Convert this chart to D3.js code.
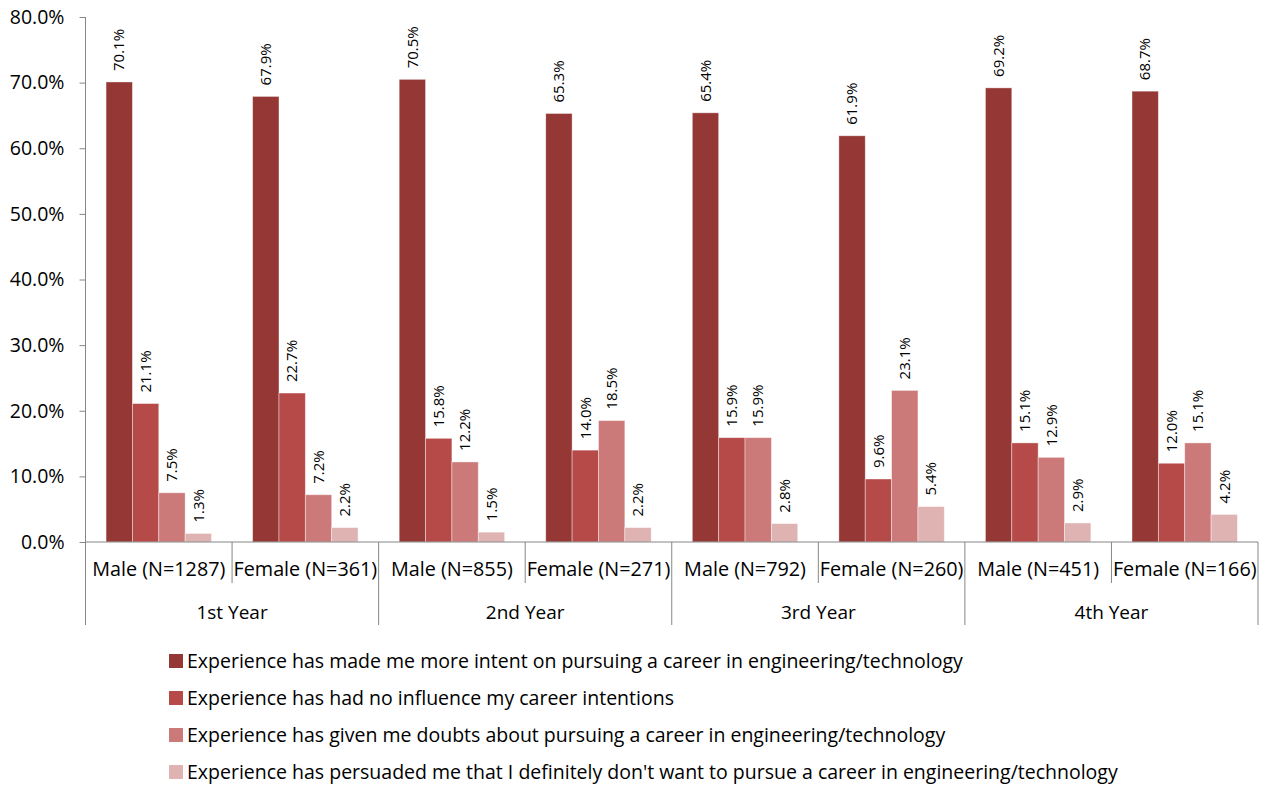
<!DOCTYPE html>
<html>
<head>
<meta charset="utf-8">
<script src="https://cdn.jsdelivr.net/npm/d3@7"></script>
<style>
  body { margin: 0; background: #fff; }
  svg text { font-family: "Open Sans", "Liberation Sans", sans-serif; fill: #000; }
</style>
</head>
<body>
<div id="chart"></div>
<script>
const years = ["1st Year", "2nd Year", "3rd Year", "4th Year"];
const groups = ["Male (N=1287)", "Female (N=361)", "Male (N=855)", "Female (N=271)",
                "Male (N=792)", "Female (N=260)", "Male (N=451)", "Female (N=166)"];
const seriesNames = [
  "Experience has made me more intent on pursuing a career in engineering/technology",
  "Experience has had no influence my career intentions",
  "Experience has given me doubts about pursuing a career in engineering/technology",
  "Experience has persuaded me that I definitely don't want to pursue a career in engineering/technology"
];
const moreIntent = [70.1, 67.9, 70.5, 65.3, 65.4, 61.9, 69.2, 68.7];
const noInfluence = [21.1, 22.7, 15.8, 14.0, 15.9, 9.6, 15.1, 12.0];
const doubts = [7.5, 7.2, 12.2, 18.5, 15.9, 23.1, 12.9, 15.1];
const dontWant = [1.3, 2.2, 1.5, 2.2, 2.8, 5.4, 2.9, 4.2];
const yTicks = [0, 10, 20, 30, 40, 50, 60, 70, 80];
const colors = ["#953735", "#b64a48", "#cb7a79", "#e0b3b3"];

const seriesValues = [moreIntent, noInfluence, doubts, dontWant];

const width = 1264, height = 785;
const margin = { top: 17, left: 85.5, right: 6, bottom: 243 };
const plotW = width - margin.left - margin.right;
const plotH = height - margin.top - margin.bottom;

const svg = d3.select("#chart").append("svg")
  .attr("width", width).attr("height", height);

const g = svg.append("g").attr("transform", `translate(${margin.left},${margin.top})`);

const x0 = d3.scaleBand().domain(d3.range(groups.length)).range([0, plotW]).padding(0);
const x1 = d3.scaleBand().domain(d3.range(seriesNames.length))
  .range([0, x0.bandwidth()]).paddingInner(0).paddingOuter(0.78);
const y = d3.scaleLinear().domain([0, 80]).range([plotH, 0]);

// bars
const grp = g.selectAll("g.grp").data(groups).enter().append("g")
  .attr("transform", (d, i) => `translate(${x0(i)},0)`);

grp.each(function (d, gi) {
  const sel = d3.select(this);
  seriesValues.forEach((vals, si) => {
    const v = vals[gi];
    sel.append("rect")
      .attr("x", x1(si))
      .attr("y", y(v))
      .attr("width", x1.bandwidth())
      .attr("height", plotH - y(v))
      .attr("fill", colors[si])
      .attr("stroke", "#ffffff")
      .attr("stroke-opacity", 0.5)
      .attr("stroke-width", 0.8);
    const cx = x1(si) + x1.bandwidth() / 2;
    const ty = y(v) - 11;
    sel.append("text")
      .attr("transform", `translate(${cx},${ty}) rotate(-90)`)
      .attr("dy", "0.35em")
      .attr("text-anchor", "start")
      .style("font-size", "15px")
      .text(v.toFixed(1) + "%");
  });
});

// y axis
const yAxis = g.append("g")
  .call(d3.axisLeft(y).tickValues(yTicks).tickSize(6).tickPadding(15)
    .tickFormat(d => d.toFixed(1) + "%"));
yAxis.select(".domain").attr("stroke", "#868686").attr("d", `M0,0V${plotH}`);
yAxis.selectAll(".tick line").attr("stroke", "#868686");
yAxis.selectAll(".tick text").style("font-size", "19.5px").attr("fill", "#000");

// x axis baseline
g.append("line").attr("x1", 0).attr("x2", plotW).attr("y1", plotH).attr("y2", plotH)
  .attr("stroke", "#868686");

// group separators
const bounds = d3.range(groups.length + 1);
g.selectAll("line.sep").data(bounds).enter().append("line")
  .attr("x1", i => i === groups.length ? plotW : x0(i))
  .attr("x2", i => i === groups.length ? plotW : x0(i))
  .attr("y1", plotH)
  .attr("y2", i => i % 2 === 0 ? plotH + 83 : plotH + 41)
  .attr("stroke", "#868686");

// group labels
g.selectAll("text.glab").data(groups).enter().append("text")
  .attr("x", (d, i) => x0(i) + x0.bandwidth() / 2)
  .attr("y", plotH + 27)
  .attr("dy", "0.35em")
  .attr("text-anchor", "middle")
  .style("font-size", "19.8px")
  .text(d => d);

// year labels
g.selectAll("text.ylab").data(years).enter().append("text")
  .attr("x", (d, i) => x0(i * 2) + x0.bandwidth())
  .attr("y", plotH + 70)
  .attr("dy", "0.35em")
  .attr("text-anchor", "middle")
  .style("font-size", "19px")
  .text(d => d);

// legend
const legend = svg.append("g").attr("transform", "translate(169,661)");
seriesNames.forEach((name, i) => {
  const row = legend.append("g").attr("transform", `translate(0,${i * 37})`);
  row.append("rect").attr("x", 0).attr("y", -7).attr("width", 14).attr("height", 14)
    .attr("fill", colors[i]);
  row.append("text").attr("x", 18).attr("y", 0).attr("dy", "0.35em")
    .style("font-size", "19.5px").text(name);
});
</script>
</body>
</html>
